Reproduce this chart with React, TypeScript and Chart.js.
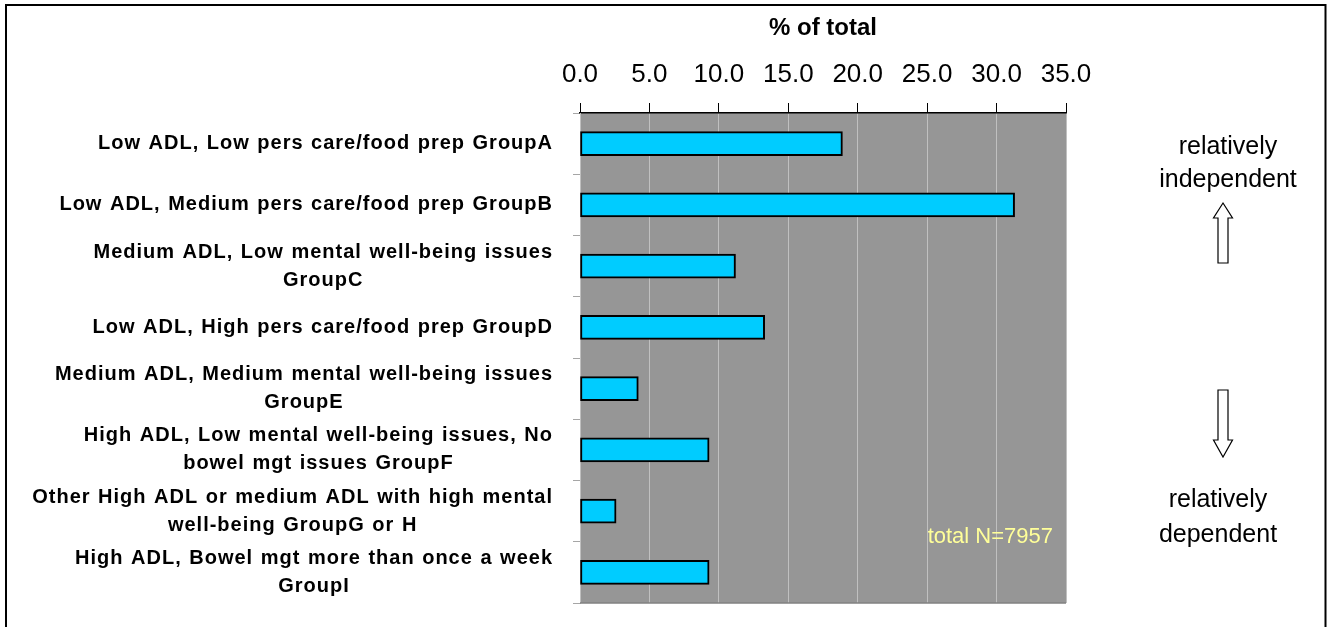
import React, { useEffect, useRef } from 'react';
import { Chart, registerables, CategoryScale } from 'chart.js';

Chart.register(...registerables);

// ---------- data ----------
const categories: (string | string[])[] = [
  'Low ADL, Low pers care/food prep GroupA',
  'Low ADL, Medium pers care/food prep GroupB',
  ['Medium ADL, Low mental well-being issues', 'GroupC'],
  'Low ADL, High pers care/food prep GroupD',
  ['Medium ADL, Medium mental well-being issues', 'GroupE'],
  ['High ADL, Low mental well-being issues, No', 'bowel mgt issues GroupF'],
  ['Other High ADL or medium ADL with high mental', 'well-being GroupG or H'],
  ['High ADL, Bowel mgt more than once a week', 'GroupI'],
];
const percentOfTotal = [18.9, 31.3, 11.2, 13.3, 4.2, 9.3, 2.6, 9.3];
const xMin = 0;
const xMax = 35;
const xStep = 5;
const axisTitle = '% of total';
const totalNote = 'total N=7957';
const upperNote = ['relatively', 'independent'];
const lowerNote = ['relatively', 'dependent'];

// ---------- styling ----------
const FONT = '"Liberation Sans", Arial, Helvetica, sans-serif';
const LABEL_WORD_SPACING = '1px';
const LABEL_LETTER_SPACING = '1px';

function applySpacing(ctx: any) {
  ctx.wordSpacing = LABEL_WORD_SPACING;
  ctx.letterSpacing = LABEL_LETTER_SPACING;
}

class CenteredCategoryScale extends CategoryScale {
  static id = 'centeredCategory';
  static defaults = CategoryScale.defaults;

  _computeLabelItems(chartArea: any) {
    // @ts-ignore
    const items = super._computeLabelItems(chartArea);
    const ctx = (this as any).ctx as CanvasRenderingContext2D;
    ctx.save();
    applySpacing(ctx);
    for (const item of items) {
      ctx.font = item.font.string;
      const lines = Array.isArray(item.label) ? item.label : [item.label];
      let w = 0;
      for (const l of lines) w = Math.max(w, ctx.measureText(String(l)).width);
      item.options.textAlign = 'center';
      item.options.translation = [item.options.translation[0] - w / 2, item.options.translation[1]];
    }
    ctx.restore();
    return items;
  }

  drawLabels(chartArea: any) {
    const ctx = (this as any).ctx as CanvasRenderingContext2D;
    ctx.save();
    applySpacing(ctx);
    // @ts-ignore
    super.drawLabels(chartArea);
    ctx.restore();
  }
}
Chart.register(CenteredCategoryScale as any);

const decorPlugin = {
  id: 'decor',
  beforeDraw(chart: any) {
    const { ctx, chartArea: a } = chart;
    ctx.save();
    ctx.fillStyle = '#969696';
    ctx.fillRect(a.left, a.top, a.right - a.left, a.bottom - a.top);
    ctx.restore();
  },
  afterDraw(chart: any) {
    const { ctx, chartArea: a } = chart;
    ctx.save();
    // plot bottom edge
    ctx.strokeStyle = '#808080';
    ctx.lineWidth = 1.5;
    ctx.beginPath();
    ctx.moveTo(a.left, a.bottom);
    ctx.lineTo(a.right, a.bottom);
    ctx.stroke();

    // total note
    ctx.fillStyle = '#ffff99';
    ctx.font = `22px ${FONT}`;
    ctx.textAlign = 'right';
    ctx.textBaseline = 'middle';
    ctx.fillText(totalNote, 1053, 537);

    // side notes
    ctx.fillStyle = '#000';
    ctx.font = `25px ${FONT}`;
    ctx.textAlign = 'center';
    ctx.fillText(upperNote[0], 1228, 147);
    ctx.fillText(upperNote[1], 1228, 180);
    ctx.fillText(lowerNote[0], 1218, 500);
    ctx.fillText(lowerNote[1], 1218, 535);

    // arrows
    const cx = 1223;
    ctx.strokeStyle = '#000';
    ctx.lineWidth = 1.2;
    ctx.fillStyle = '#fff';
    ctx.beginPath();
    ctx.moveTo(cx, 203);
    ctx.lineTo(cx + 9.5, 218);
    ctx.lineTo(cx + 5, 218);
    ctx.lineTo(cx + 5, 263);
    ctx.lineTo(cx - 5, 263);
    ctx.lineTo(cx - 5, 218);
    ctx.lineTo(cx - 9.5, 218);
    ctx.closePath();
    ctx.fill();
    ctx.stroke();

    ctx.beginPath();
    ctx.moveTo(cx - 5, 390);
    ctx.lineTo(cx + 5, 390);
    ctx.lineTo(cx + 5, 440);
    ctx.lineTo(cx + 9.5, 440);
    ctx.lineTo(cx, 457);
    ctx.lineTo(cx - 9.5, 440);
    ctx.lineTo(cx - 5, 440);
    ctx.closePath();
    ctx.fill();
    ctx.stroke();

    // outer frame (no bottom edge visible)
    ctx.strokeStyle = '#000';
    ctx.lineWidth = 2;
    ctx.beginPath();
    ctx.moveTo(6, 700);
    ctx.lineTo(6, 5);
    ctx.lineTo(1325.5, 5);
    ctx.lineTo(1325.5, 700);
    ctx.stroke();
    ctx.restore();
  },
};

export default function App() {
  const ref = useRef<HTMLCanvasElement>(null);

  useEffect(() => {
    if (!ref.current) return;
    const chart = new Chart(ref.current, {
      type: 'bar',
      data: {
        labels: categories as any,
        datasets: [
          {
            data: percentOfTotal,
            backgroundColor: '#00ccff',
            borderColor: '#000000',
            borderWidth: 2,
            borderSkipped: false,
            barThickness: 24,
          },
        ],
      },
      options: {
        indexAxis: 'y',
        animation: false,
        responsive: false,
        devicePixelRatio: 1,
        layout: { padding: { left: 0, right: 265, top: 0, bottom: 24 } },
        plugins: {
          legend: { display: false },
          tooltip: { enabled: false },
        },
        scales: {
          x: {
            type: 'linear',
            position: 'top',
            min: xMin,
            max: xMax,
            ticks: {
              stepSize: xStep,
              padding: 13,
              color: '#000',
              font: { size: 26, family: FONT },
              callback: (v: any) => Number(v).toFixed(1),
            },
            grid: {
              color: '#c0c0c0',
              tickColor: '#000',
              tickLength: 10,
              lineWidth: 1,
            },
            border: { color: '#000', width: 1.5 },
            title: {
              display: true,
              text: axisTitle,
              color: '#000',
              font: { size: 24, weight: 'bold', family: FONT },
              padding: { top: 14, bottom: 0 },
            },
            afterFit: (s: any) => {
              s.height = 113;
              s.paddingLeft = 0;
              s.paddingRight = 0;
            },
          },
          y: {
            type: 'centeredCategory' as any,
            offset: true,
            ticks: {
              autoSkip: false,
              crossAlign: 'near',
              padding: 20,
              color: '#000',
              font: { size: 20, weight: 'bold', family: FONT, lineHeight: '28px' },
            },
            grid: {
              offset: true,
              drawOnChartArea: false,
              drawTicks: true,
              tickLength: 7,
              color: '#a6a6a6',
            },
            border: { color: '#c0c0c0', width: 1 },
            afterFit: (s: any) => {
              s.width = 580;
              s.paddingTop = 0;
              s.paddingBottom = 0;
            },
          } as any,
        },
      },
      plugins: [decorPlugin],
    });
    return () => chart.destroy();
  }, []);

  return (
    <div style={{ position: 'fixed', left: 0, top: 0, width: 1331, height: 627, background: '#fff' }}>
      <canvas ref={ref} width={1331} height={627} style={{ display: 'block', width: 1331, height: 627 }} />
    </div>
  );
}
